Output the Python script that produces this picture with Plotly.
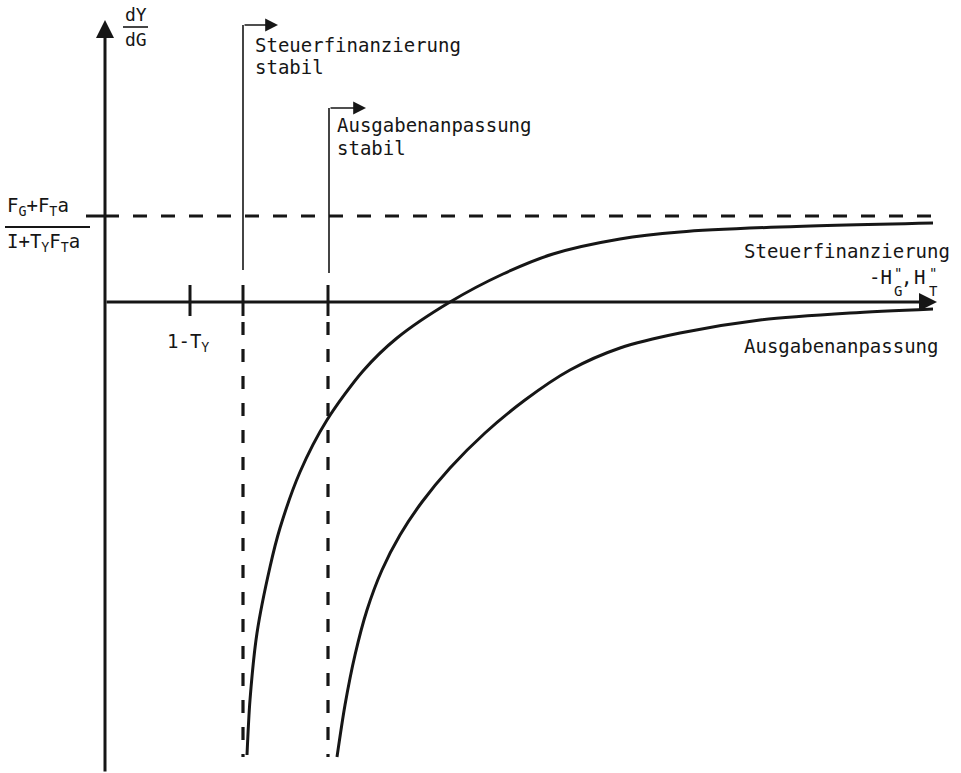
import plotly.graph_objects as go

# Coordinates are measured from the point where the two axes cross:
# x grows to the right, y grows upward.
X_RANGE = [-105, 856]
Y_RANGE = [-471, 302]

# Marked positions on the horizontal axis
tick_1_minus_ty = 85
x_stabil_steuer = 138
x_stabil_ausgaben = 223
# Horizontal asymptote (F_G + F_T a) / (1 + T_Y F_T a)
asymptote_level = 86

# dY/dG under tax financing (Steuerfinanzierung)
steuer_x = [142, 145, 152, 165, 175, 195, 222, 258, 292, 345, 398, 448, 515, 575, 675, 828]
steuer_y = [-453, -398, -331, -265, -226, -170, -118, -69, -36, 0, 28, 48, 63, 70, 75, 79]

# dY/dG under expenditure adjustment (Ausgabenanpassung)
ausgaben_x = [232, 240, 250, 262, 277, 295, 317, 345, 380, 420, 465, 515, 575, 655, 745, 828]
ausgaben_y = [-455, -403, -353, -308, -268, -233, -200, -166, -131, -98, -68, -46, -31, -18, -11, -7]

INK = "#161616"
FONT = "DejaVu Sans Mono"
FS = 19

fig = go.Figure()

# the two multiplier curves
for xs, ys in ((steuer_x, steuer_y), (ausgaben_x, ausgaben_y)):
    fig.add_trace(go.Scatter(
        x=xs, y=ys, mode="lines",
        line=dict(color=INK, width=3, shape="spline", smoothing=0.8),
        hoverinfo="skip", showlegend=False,
    ))

shapes = []
# asymptote
shapes.append(dict(type="line", x0=0, x1=828, y0=asymptote_level, y1=asymptote_level,
                   line=dict(color=INK, width=3, dash="14px,14px")))
# short tick on the vertical axis at the asymptote
shapes.append(dict(type="line", x0=-19, x1=0, y0=asymptote_level, y1=asymptote_level,
                   line=dict(color=INK, width=3)))
# ticks on the horizontal axis
for xt in (tick_1_minus_ty, x_stabil_steuer, x_stabil_ausgaben):
    shapes.append(dict(type="line", x0=xt, x1=xt, y0=17, y1=-14,
                       line=dict(color=INK, width=3)))
# vertical asymptotes (dashed, below the axis)
for xt in (x_stabil_steuer, x_stabil_ausgaben):
    shapes.append(dict(type="line", x0=xt, x1=xt, y0=-20, y1=-455,
                       line=dict(color=INK, width=3.2, dash="13px,14px")))
# stability boundaries above the axis
shapes.append(dict(type="line", x0=x_stabil_steuer, x1=x_stabil_steuer, y0=32, y1=277,
                   line=dict(color=INK, width=1.6)))
shapes.append(dict(type="line", x0=x_stabil_ausgaben + 1, x1=x_stabil_ausgaben + 1, y0=29, y1=194,
                   line=dict(color=INK, width=1.6)))
# fraction bars
shapes.append(dict(type="line", x0=18, x1=43, y0=275, y1=275, line=dict(color=INK, width=1.6)))
shapes.append(dict(type="line", x0=-100, x1=-15, y0=75, y1=75, line=dict(color=INK, width=1.8)))

annotations = []


def arrow(x_tail, y_tail, x_head, y_head, width, size):
    annotations.append(dict(
        x=x_head, y=y_head, ax=x_tail, ay=y_tail,
        xref="x", yref="y", axref="x", ayref="y",
        text="", showarrow=True, arrowhead=2, arrowsize=size,
        arrowwidth=width, arrowcolor=INK, standoff=0, startstandoff=0,
    ))


# axes
arrow(0, Y_RANGE[0], 0, 282, 3, 1.2)
arrow(0, 0, 832, 0, 3, 1.2)
# direction arrows on the stability boundaries
arrow(x_stabil_steuer, 277, 173, 277, 1.6, 1.6)
arrow(x_stabil_ausgaben + 1, 194, 261, 194, 1.6, 1.6)


def label(text, x, y, xanchor="left", size=FS):
    annotations.append(dict(
        x=x, y=y, xref="x", yref="y", text=text, showarrow=False,
        xanchor=xanchor, yanchor="middle", borderpad=0,
        font=dict(family=FONT, size=size, color=INK),
    ))


label("dY", 19, 288, size=18)
label("dG", 19, 263, size=18)
label("F<sub>G</sub>+F<sub>T</sub>a", -99, 96)
label("I+T<sub>Y</sub>F<sub>T</sub>a", -99, 60)
label("1-T<sub>Y</sub>", 61, -40)
label("Steuerfinanzierung", 149, 257)
label("stabil", 149, 235)
label("Ausgabenanpassung", 231, 177)
label("stabil", 231, 154)
label("Steuerfinanzierung", 846, 51, xanchor="right")
label("Ausgabenanpassung", 834, -44, xanchor="right")

# -H"_G , H"_T  (double primes stacked above the subscripts)
label("-H", 788, 25, xanchor="right")
label("\"<br>G", 793, 20, xanchor="center", size=14)
label(",", 801, 25, xanchor="center")
label("H", 814, 25, xanchor="center")
label("\"<br>T", 828, 20, xanchor="center", size=14)

fig.update_layout(
    width=961, height=773, autosize=False,
    margin=dict(l=0, r=0, t=0, b=0),
    paper_bgcolor="white", plot_bgcolor="white",
    xaxis=dict(range=X_RANGE, visible=False, fixedrange=True),
    yaxis=dict(range=Y_RANGE, visible=False, fixedrange=True),
    shapes=shapes, annotations=annotations,
    showlegend=False,
)

fig.write_html("out.html")
